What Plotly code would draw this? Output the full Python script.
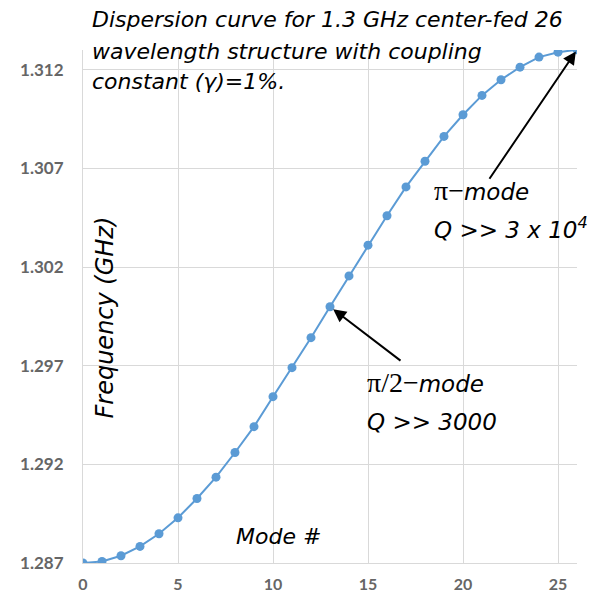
import plotly.graph_objects as go

mode_numbers = list(range(27))
frequency_ghz = [1.28700, 1.28708, 1.28737, 1.28784, 1.28848, 1.28929, 1.29027,
                 1.29135, 1.29260, 1.29391, 1.29543, 1.29690, 1.29842, 1.29999,
                 1.30155, 1.30311, 1.30460, 1.30606, 1.30736, 1.30862, 1.30972,
                 1.31070, 1.31149, 1.31213, 1.31264, 1.31289, 1.31301]
x_ticks = [0, 5, 10, 15, 20, 25]
y_ticks = [1.287, 1.292, 1.297, 1.302, 1.307, 1.312]
y_tick_labels = ["1.287", "1.292", "1.297", "1.302", "1.307", "1.312"]

title_lines = ["Dispersion curve for 1.3 GHz center-fed 26",
               "wavelength structure with coupling",
               "constant (γ)=1%."]

BLUE = "#5B9BD5"
GRID = "#D9D9D9"
TICK = "#666666"
FONT = "DejaVu Sans"
TFONT = "Lato"
SERIF = "Liberation Serif"

fig = go.Figure()
fig.add_trace(go.Scatter(
    x=mode_numbers, y=frequency_ghz, mode="lines+markers",
    line=dict(color=BLUE, width=2),
    marker=dict(color=BLUE, size=9),
    showlegend=False, hoverinfo="skip"))

ann = []
title_y = [1.0585, 0.998, 0.9377]
for txt, yy in zip(title_lines, title_y):
    ann.append(dict(text=txt, xref="paper", yref="paper", x=0.0136, y=yy,
                    xanchor="left", yanchor="middle", showarrow=False,
                    font=dict(family=FONT, size=22, color="black", style="italic")))

ann.append(dict(text="Frequency (GHz)", xref="paper", yref="paper", x=0.044, y=0.478,
                textangle=-90, xanchor="center", yanchor="middle", showarrow=False,
                font=dict(family=FONT, size=24, color="black", style="italic")))
ann.append(dict(text="Mode #", xref="paper", yref="paper", x=0.395, y=0.0512,
                xanchor="center", yanchor="middle", showarrow=False,
                font=dict(family=FONT, size=22, color="black", style="italic")))

sp = f'<span style="font-family:{SERIF};font-style:normal;font-size:28px">'
pi = sp + "π−</span>"
pi2 = sp + "π/2−</span>"
lbl_font = dict(family=FONT, size=23, color="black", style="italic")
ann.append(dict(text=pi + "mode", xref="paper", yref="paper", x=0.707, y=0.727,
                xanchor="left", yanchor="middle", showarrow=False, font=lbl_font))
ann.append(dict(text="Q >> 3 x 10<sup>4</sup>", xref="paper", yref="paper", x=0.707, y=0.653,
                xanchor="left", yanchor="middle", showarrow=False, font=lbl_font))
ann.append(dict(text=pi2 + "mode", xref="paper", yref="paper", x=0.571, y=0.351,
                xanchor="left", yanchor="middle", showarrow=False, font=lbl_font))
ann.append(dict(text="Q >> 3000", xref="paper", yref="paper", x=0.571, y=0.275,
                xanchor="left", yanchor="middle", showarrow=False, font=lbl_font))

# arrows pointing at the pi-mode and pi/2-mode points
ann.append(dict(text="", x=mode_numbers[26], y=frequency_ghz[26], xref="x", yref="y",
                ax=21.34, ay=1.30640, axref="x", ayref="y", showarrow=True,
                arrowhead=2, arrowsize=1.3, arrowwidth=2, arrowcolor="black", standoff=2))
ann.append(dict(text="", x=mode_numbers[13], y=frequency_ghz[13], xref="x", yref="y",
                ax=16.79, ay=1.29720, axref="x", ayref="y", showarrow=True,
                arrowhead=2, arrowsize=1.3, arrowwidth=2, arrowcolor="black", standoff=4))

fig.update_layout(
    width=591, height=596,
    margin=dict(l=83, r=14, t=50, b=33),
    paper_bgcolor="white", plot_bgcolor="white",
    annotations=ann,
    xaxis=dict(range=[0, 26], tickvals=x_ticks, showgrid=True, gridcolor=GRID, gridwidth=1,
               zeroline=False, showline=True, linecolor=GRID, linewidth=1,
               tickfont=dict(family=TFONT, size=16, color=TICK, weight="bold"),
               ticklabelstandoff=7, automargin=False, fixedrange=True),
    yaxis=dict(range=[1.287, 1.313], tickvals=y_ticks, ticktext=y_tick_labels,
               showgrid=True, gridcolor=GRID, gridwidth=1,
               zeroline=False, showline=True, linecolor=GRID, linewidth=1,
               tickfont=dict(family=TFONT, size=17, color=TICK, weight="bold"),
               ticklabelstandoff=15, automargin=False, fixedrange=True),
)

fig.write_html("out.html")
